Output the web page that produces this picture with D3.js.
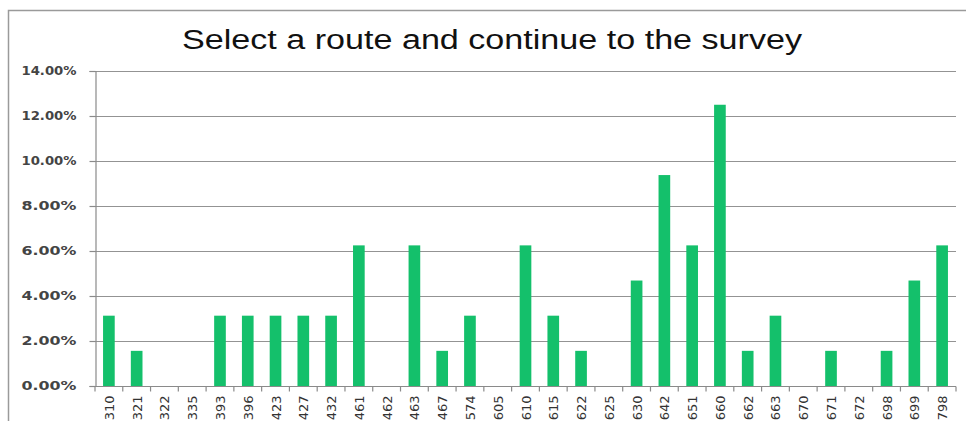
<!DOCTYPE html>
<html>
<head>
<meta charset="utf-8">
<script src="https://cdn.jsdelivr.net/npm/d3@7"></script>
<style>
  html, body { margin: 0; padding: 0; background: #fff; }
  svg { display: block; }
</style>
</head>
<body>
<svg id="chart" width="966" height="421"></svg>
<script>
// Route numbers and the share of responses for each
const routes = ["310","321","322","335","393","396","423","427","432","461","462","463","467","574","605","610","615","622","625","630","642","651","660","662","663","670","671","672","698","699","798"];
const shares = [3.125,1.5625,0,0,3.125,3.125,3.125,3.125,3.125,6.25,0,6.25,1.5625,3.125,0,6.25,3.125,1.5625,0,4.6875,9.375,6.25,12.5,1.5625,3.125,0,1.5625,0,1.5625,4.6875,6.25];
const yTicks = [0,2,4,6,8,10,12,14];
const title = "Select a route and continue to the survey";

const svg = d3.select("#chart");
const plot = { left: 95, right: 956, top: 71, bottom: 386 };

// Outer chart frame
svg.append("path")
  .attr("d", "M8.5,421 V10.5 H966")
  .attr("fill", "none")
  .attr("stroke", "#9a9a9a")
  .attr("stroke-width", 1.5);

// Title
svg.append("text")
  .attr("x", 182).attr("y", 49)
  .attr("font-family", "Liberation Sans, Arial, sans-serif")
  .attr("font-size", 27)
  .attr("fill", "#111")
  .attr("textLength", 620)
  .attr("lengthAdjust", "spacingAndGlyphs")
  .text(title);

const x = d3.scaleBand().domain(routes).range([plot.left, plot.right]).paddingInner(0.58).paddingOuter(0.29);
const y = d3.scaleLinear().domain([0, 14]).range([plot.bottom, plot.top]);

// Horizontal gridlines
svg.append("g").selectAll("line").data(yTicks.filter(d => d > 0)).join("line")
  .attr("x1", plot.left).attr("x2", plot.right)
  .attr("y1", d => Math.round(y(d)) + 0.5).attr("y2", d => Math.round(y(d)) + 0.5)
  .attr("stroke", "#939393").attr("stroke-width", 1.2);

// Bars
svg.append("g").selectAll("rect").data(routes).join("rect")
  .attr("x", d => x(d))
  .attr("width", x.bandwidth())
  .attr("y", (d, i) => y(shares[i]))
  .attr("height", (d, i) => y(0) - y(shares[i]))
  .attr("fill", "#14c06b");

// Y axis
const yAxis = svg.append("g")
  .attr("transform", `translate(${plot.left + 0.5},0)`)
  .call(d3.axisLeft(y).tickValues(yTicks).tickSize(6).tickPadding(13)
    .tickFormat(d => d3.format(".2f")(d) + "%"));
yAxis.select(".domain").attr("stroke", "#8a8a8a").attr("stroke-width", 1.2);
yAxis.selectAll(".tick line").attr("stroke", "#8a8a8a").attr("stroke-width", 1.2);
yAxis.selectAll(".tick text")
  .attr("font-family", "Verdana, DejaVu Sans, sans-serif")
  .attr("font-size", 12)
  .attr("font-weight", "bold")
  .attr("fill", "#444")
  .attr("textLength", 55)
  .attr("lengthAdjust", "spacingAndGlyphs");

// X axis with boundary ticks between categories
const xg = svg.append("g").attr("transform", `translate(0,${Math.round(plot.bottom) + 0.5})`);
xg.append("line")
  .attr("x1", plot.left).attr("x2", plot.right)
  .attr("stroke", "#8a8a8a").attr("stroke-width", 1.2);
const edges = d3.range(routes.length + 1).map(i => plot.left + i * (plot.right - plot.left) / routes.length);
xg.selectAll("line.edge").data(edges).join("line").attr("class", "edge")
  .attr("x1", d => d).attr("x2", d => d).attr("y1", 0).attr("y2", 5)
  .attr("stroke", "#8a8a8a").attr("stroke-width", 1.2);
xg.selectAll("text").data(routes).join("text")
  .attr("transform", d => `translate(${x(d) + x.bandwidth() / 2 + 5},9) rotate(-90)`)
  .attr("text-anchor", "end")
  .attr("font-family", "DejaVu Sans, Verdana, sans-serif")
  .attr("font-size", 13)
  .attr("fill", "#333")
  .text(d => d);
</script>
</body>
</html>
